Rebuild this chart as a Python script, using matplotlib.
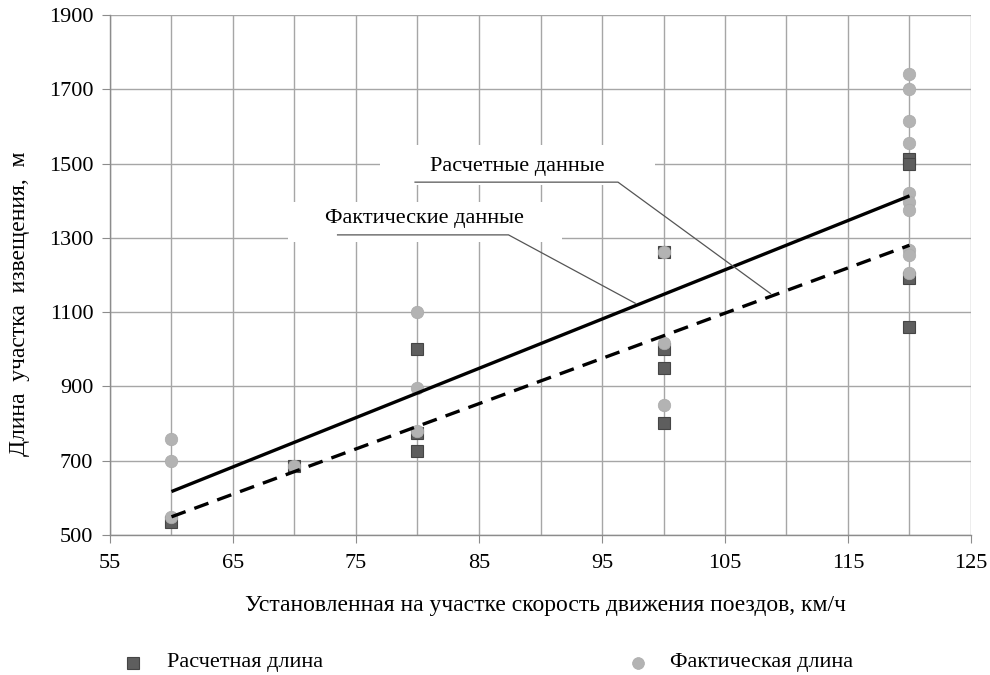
import matplotlib
matplotlib.use("Agg")
import matplotlib.pyplot as plt
from matplotlib.lines import Line2D
from matplotlib.patches import Rectangle

plt.rcParams['font.family'] = ['Liberation Serif', 'DejaVu Serif']

# Calculated lengths (squares)
calc_speed = [60, 70, 80, 80, 80, 100, 100, 100, 100, 120, 120, 120, 120]
calc_length = [536, 685, 1000, 775, 727, 1261, 1001, 949, 801, 1512, 1500, 1192, 1061]

# Actual lengths (circles)
fact_speed = [60, 60, 60, 70, 80, 80, 80, 100, 100, 100,
              120, 120, 120, 120, 120, 120, 120, 120, 120, 120]
fact_length = [758, 700, 549, 685, 1100, 895, 780, 1261, 1018, 850,
               1741, 1700, 1615, 1556, 1421, 1397, 1375, 1267, 1254, 1205]

# Trend lines (end points)
trend_speed = [60, 120]
trend_solid = [617, 1413]
trend_dashed = [549, 1280]

x_ticks = [55, 65, 75, 85, 95, 105, 115, 125]
y_ticks = [500, 700, 900, 1100, 1300, 1500, 1700, 1900]

fig = plt.figure(figsize=(9.9, 6.75), dpi=100)
ax = fig.add_axes([110 / 990, 1 - 535 / 675, 861 / 990, 520 / 675])

ax.set_xlim(55, 125)
ax.set_ylim(500, 1900)
ax.set_xticks(x_ticks)
ax.set_xticks(list(range(60, 125, 10)), minor=True)
ax.set_yticks(y_ticks)

grid_col = '#a6a6a6'
ax.grid(True, which='both', color=grid_col, linewidth=1.0, zorder=0)
ax.set_axisbelow(True)
for s in ['top', 'right']:
    ax.spines[s].set_visible(False)
for s in ['left', 'bottom']:
    ax.spines[s].set_color('#8c8c8c')
    ax.spines[s].set_linewidth(1.0)
ax.tick_params(axis='both', which='major', direction='out', length=6,
               color='#8c8c8c', labelsize=16, pad=6)
ax.tick_params(axis='x', which='minor', length=0)
ax.tick_params(axis='x', which='major', pad=8)

# White label boxes hide the grid behind the captions
ax.add_patch(Rectangle((76.95, 1442), 22.35, 108, facecolor='white',
                       edgecolor='none', zorder=1))
ax.add_patch(Rectangle((69.5, 1289), 22.25, 107, facecolor='white',
                       edgecolor='none', zorder=1))

ax.plot(calc_speed, calc_length, linestyle='none', marker='s', markersize=9,
        markerfacecolor='#5e5e5e', markeredgecolor='#454545',
        markeredgewidth=0.8, zorder=3)
ax.plot(fact_speed, fact_length, linestyle='none', marker='o', markersize=9,
        markerfacecolor='#b3b3b3', markeredgecolor='#ababab',
        markeredgewidth=0.5, zorder=4)

ax.plot(trend_speed, trend_solid, color='black', linewidth=2.4,
        solid_capstyle='butt', zorder=5)
ax.plot(trend_speed, trend_dashed, color='black', linewidth=2.4,
        linestyle=(0, (4.5, 2.8)), zorder=5)

# Captions with leader lines
ax.text(88.1, 1491, 'Расчетные данные', fontsize=16, ha='center',
        va='center', zorder=6)
ax.plot([79.8, 96.3, 108.7], [1450, 1450, 1150], color='#555555',
        linewidth=0.9, zorder=6)
ax.text(80.6, 1351, 'Фактические данные', fontsize=16, ha='center',
        va='center', zorder=6)
ax.plot([73.5, 87.4, 97.7], [1308, 1308, 1124], color='#555555',
        linewidth=0.9, zorder=6)

fig.text(545 / 990, 1 - 605 / 675,
         'Установленная на участке скорость движения поездов, км/ч',
         fontsize=17, ha='center', va='center')
fig.text(20 / 990, 1 - 304 / 675, 'Длина  участка  извещения,  м',
         fontsize=17, ha='center', va='center', rotation=90)

# Legend
fig.add_artist(Line2D([133 / 990], [1 - 663 / 675], marker='s',
                      markersize=8.5, markerfacecolor='#5e5e5e',
                      markeredgecolor='#454545', markeredgewidth=0.8,
                      linestyle='none'))
fig.text(167 / 990, 1 - 663 / 675, 'Расчетная длина', fontsize=16,
         ha='left', va='center')
fig.add_artist(Line2D([638 / 990], [1 - 663 / 675], marker='o',
                      markersize=8.5, markerfacecolor='#b3b3b3',
                      markeredgecolor='#ababab', markeredgewidth=0.5,
                      linestyle='none'))
fig.text(670 / 990, 1 - 663 / 675, 'Фактическая длина', fontsize=16,
         ha='left', va='center')

fig.savefig('out.png', dpi=100, facecolor='white')
